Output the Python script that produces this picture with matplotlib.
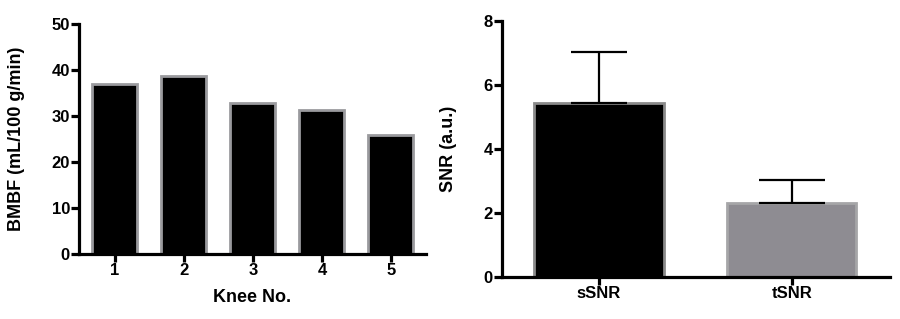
import numpy as np
import matplotlib.pyplot as plt

plt.rcParams['font.family'] = ['Liberation Sans', 'DejaVu Sans']
plt.rcParams['font.weight'] = 'bold'

# Datos panel izquierdo
knees = ['1', '2', '3', '4', '5']
bmbf = [36.9, 38.6, 32.9, 31.4, 25.8]

# Datos panel derecho
snr_labels = ['sSNR', 'tSNR']
snr_mean = [5.45, 2.3]
snr_err = [1.58, 0.73]

fig = plt.figure(figsize=(9, 3.19), dpi=100)

ax1 = fig.add_axes([0.0878, 0.2038, 0.3856, 0.721])
ax2 = fig.add_axes([0.5578, 0.1317, 0.4311, 0.8025])


def style_axis(ax):
    for s in ['top', 'right']:
        ax.spines[s].set_visible(False)
    for s in ['left', 'bottom']:
        ax.spines[s].set_linewidth(2.3)
    ax.tick_params(width=2.3, length=5.5, labelsize=12, pad=1.0)
    for lab in ax.get_xticklabels() + ax.get_yticklabels():
        lab.set_fontweight('bold')


# Panel 1: BMBF por rodilla
x = np.arange(1, len(knees) + 1)
ax1.bar(x, bmbf, width=0.65, color='black', edgecolor='#9a9a9e', linewidth=2.0, zorder=2)
ax1.set_xlim(0.48, 5.51)
ax1.set_ylim(0, 50)
ax1.set_yticks([0, 10, 20, 30, 40, 50])
ax1.set_xticks(x)
ax1.set_xticklabels(knees)
ax1.set_ylabel('BMBF (mL/100 g/min)', fontsize=13, fontweight='bold', labelpad=19)
ax1.set_xlabel('Knee No.', fontsize=13, fontweight='bold', labelpad=8)
style_axis(ax1)

# Panel 2: SNR
x2 = np.arange(len(snr_labels))
colors = ['black', '#8e8c92']
edges = ['#8a8a8a', '#a6a6a8']
caps = [20.5, 23.5]
ax2.bar(x2, snr_mean, width=0.67, color=colors, edgecolor=edges, linewidth=2.0, zorder=2)
for i in range(len(snr_labels)):
    ax2.errorbar(x2[i], snr_mean[i], yerr=[[0], [snr_err[i]]], fmt='none', ecolor='black',
                 elinewidth=1.6, capsize=caps[i], capthick=1.6, zorder=3)
ax2.set_xlim(-0.503, 1.51)
ax2.set_ylim(0, 8)
ax2.set_yticks([0, 2, 4, 6, 8])
ax2.set_xticks(x2)
ax2.set_xticklabels(snr_labels)
ax2.set_ylabel('SNR (a.u.)', fontsize=13, fontweight='bold', labelpad=19)
style_axis(ax2)

plt.savefig('out.png', dpi=100)
plt.close()
